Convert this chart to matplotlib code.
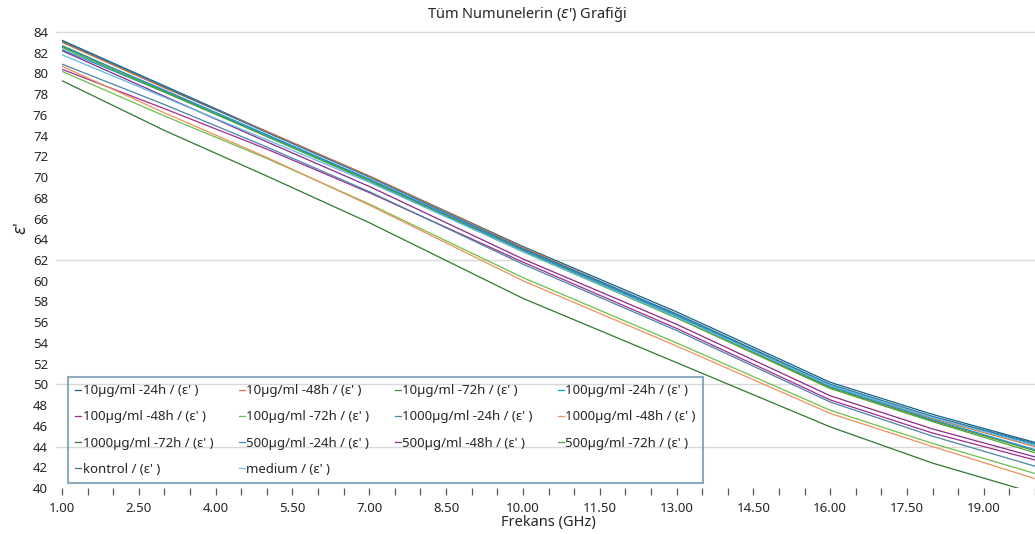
import numpy as np
import matplotlib
matplotlib.use('Agg')
import matplotlib.pyplot as plt
from matplotlib.ticker import MultipleLocator, FormatStrFormatter

plt.rcParams['font.family'] = ['Noto Sans', 'DejaVu Sans']

freq = [1, 3, 5, 7, 10, 13, 16, 18, 20]

s_10_24 = [83.2, 78.8, 74.4, 70.1, 63.3, 57.0, 50.2, 47.1, 44.4]
s_10_48 = [83.0, 78.6, 74.4, 70.1, 63.2, 56.7, 49.9, 46.7, 44.0]
s_10_72 = [82.7, 78.3, 74.0, 69.7, 62.9, 56.5, 49.7, 46.5, 43.6]
s_100_24 = [82.3, 78.2, 74.0, 69.8, 63.0, 56.7, 50.0, 46.9, 44.2]
s_100_48 = [80.4, 76.6, 72.7, 68.5, 61.8, 55.4, 48.5, 45.3, 42.7]
s_100_72 = [80.2, 75.9, 71.8, 67.4, 60.3, 54.0, 47.5, 44.3, 41.4]
s_1000_24 = [80.9, 77.0, 72.9, 68.6, 61.6, 55.2, 48.3, 45.0, 42.1]
s_1000_48 = [80.7, 76.2, 71.9, 67.3, 60.0, 53.7, 47.2, 44.0, 40.9]
s_1000_72 = [79.3, 74.5, 70.1, 65.6, 58.3, 52.1, 45.9, 42.4, 39.5]
s_500_24 = [82.6, 78.4, 74.1, 69.8, 63.0, 56.6, 49.8, 46.6, 43.7]
s_500_48 = [82.2, 77.8, 73.4, 69.1, 62.1, 55.8, 48.9, 45.7, 43.0]
s_500_72 = [82.5, 78.2, 73.9, 69.6, 62.8, 56.4, 49.6, 46.4, 43.4]
s_kontrol = [83.1, 78.7, 74.3, 70.0, 63.1, 56.8, 50.0, 46.9, 44.3]
s_medium = [81.8, 77.7, 73.6, 69.5, 62.8, 56.5, 49.9, 46.8, 44.1]

names = ["10µg/ml -24h", "10µg/ml -48h", "10µg/ml -72h", "100µg/ml -24h",
         "100µg/ml -48h", "100µg/ml -72h", "1000µg/ml -24h", "1000µg/ml -48h",
         "1000µg/ml -72h", "500µg/ml -24h", "500µg/ml -48h", "500µg/ml -72h",
         "kontrol", "medium"]
series = [s_10_24, s_10_48, s_10_72, s_100_24, s_100_48, s_100_72, s_1000_24,
          s_1000_48, s_1000_72, s_500_24, s_500_48, s_500_72, s_kontrol, s_medium]
colors = ['#156082', '#E97132', '#3f8f3a', '#0F9ED5', '#A02B93', '#6cbf4a',
          '#4a84a8', '#F0905a', '#2c7a30', '#2a8fd0', '#8a2a8a', '#4EA72E',
          '#3f7394', '#5bbde8']

fig = plt.figure(figsize=(10.35, 5.34), dpi=100)
ax = fig.add_axes([62 / 1035, 46 / 534, 973 / 1035, 456 / 534])

# only some of the gridlines show in the original
for g in [84, 62, 50, 44]:
    ax.axhline(g, color='#d9d9d9', lw=1, zorder=0, xmin=-0.006, clip_on=False)

handles = []
for name, vals, c in zip(names, series, colors):
    h, = ax.plot(freq, vals, color=c, lw=0.9, label=name + " / (ε' )")
    handles.append(h)

ax.set_xlim(1, 20)
ax.set_ylim(40, 84)
ax.yaxis.set_major_locator(MultipleLocator(2))
ax.xaxis.set_major_locator(MultipleLocator(1.5, offset=1))
ax.xaxis.set_minor_locator(MultipleLocator(0.5))
ax.xaxis.set_major_formatter(FormatStrFormatter('%.2f'))
for s in ax.spines.values():
    s.set_visible(False)
ax.tick_params(axis='y', length=0, labelsize=9.5, labelcolor='#262626', pad=10)
ax.tick_params(axis='x', which='both', direction='out', length=5, width=0.9,
               color='#595959', labelsize=9.5, labelcolor='#262626', pad=5)

fig.suptitle("Tüm Numunelerin ($\\varepsilon$') Grafiği", x=527 / 1035, y=0.99,
             fontsize=10.5, color='#262626')
ax.set_xlabel("Frekans (GHz)", fontsize=10.5, color='#262626', labelpad=0)
ax.set_ylabel("$\\varepsilon$'", fontsize=12, color='#262626')
ax.yaxis.set_label_coords(-0.033, 0.57)

order = [0, 4, 8, 12, 1, 5, 9, 13, 2, 6, 10, 3, 7, 11]
leg = fig.legend([handles[i] for i in order], [handles[i].get_label() for i in order],
                 ncol=4, loc='upper left', mode='expand',
                 bbox_to_anchor=(68 / 1035, 1 - 483 / 534, 635 / 1035, 106 / 534),
                 fontsize=9.5, handlelength=0.45, handletextpad=0.1,
                 labelspacing=1.0, columnspacing=1.0, fancybox=False,
                 borderpad=0.55, borderaxespad=0)
fr = leg.get_frame()
fr.set_facecolor('none')
fr.set_edgecolor('#6f97ad')
fr.set_linewidth(1.5)
for t in leg.get_texts():
    t.set_color('#262626')

fig.savefig('out.png', dpi=100)
